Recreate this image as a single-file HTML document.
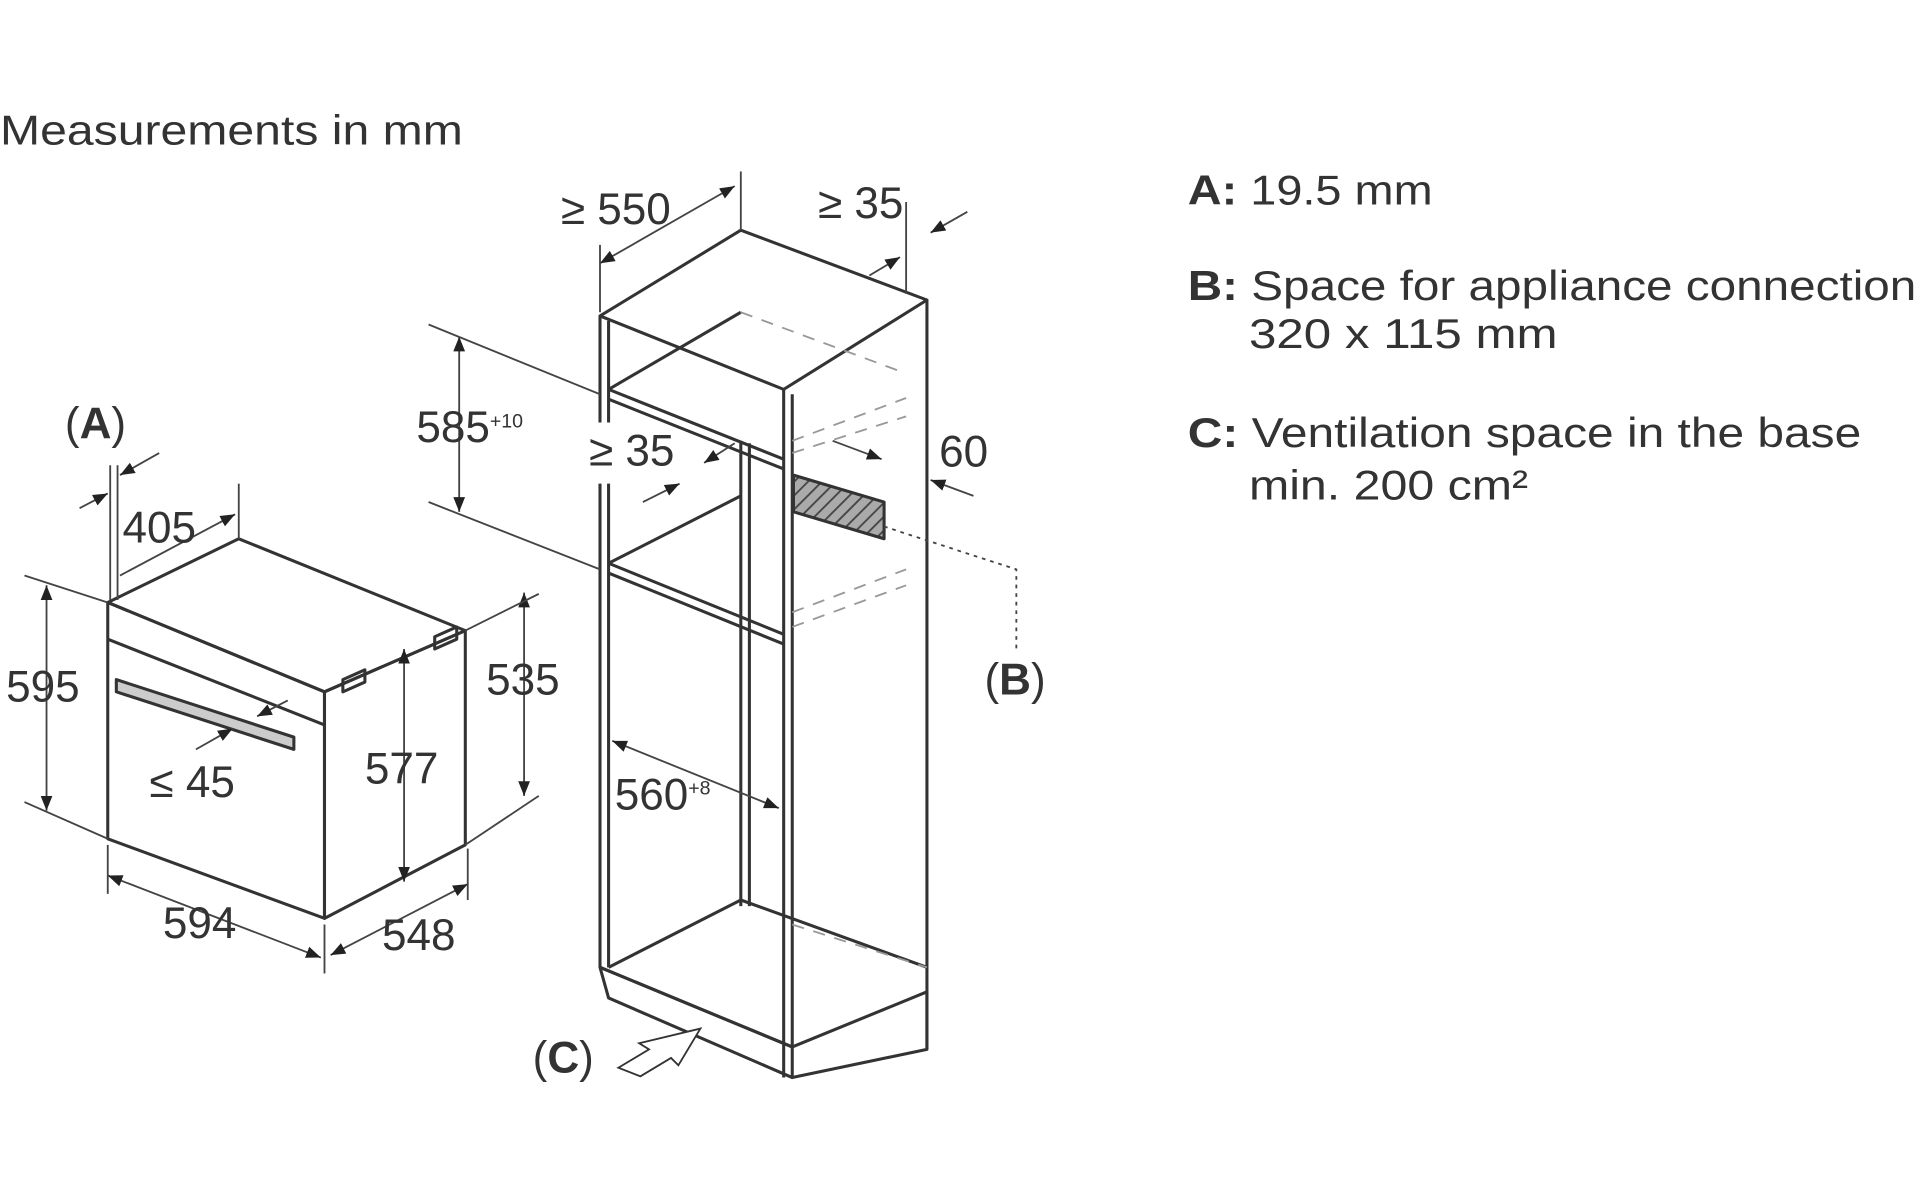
<!DOCTYPE html>
<html><head><meta charset="utf-8"><style>
html,body{margin:0;padding:0;background:#fff;width:1920px;height:1200px;overflow:hidden}
svg{display:block}
text{font-family:"Liberation Sans",sans-serif;fill:#333}
</style></head><body>
<svg width="1920" height="1200" viewBox="0 0 1568 980" preserveAspectRatio="none">
<defs>
<marker id="ar" viewBox="0 0 10 10" refX="10" refY="5" markerWidth="8" markerHeight="8" orient="auto-start-reverse"><path d="M0,1 L10,5 L0,9 z" fill="#222"/></marker>
<pattern id="hat" width="8" height="8" patternUnits="userSpaceOnUse" patternTransform="rotate(45)"><rect width="8" height="8" fill="#aaa"/><line x1="0" y1="0" x2="0" y2="8" stroke="#444" stroke-width="3"/></pattern>
</defs>
<g font-size="34">
<text x="0" y="118" textLength="378" lengthAdjust="spacingAndGlyphs">Measurements in mm</text>
<text x="970" y="167" textLength="200" lengthAdjust="spacingAndGlyphs"><tspan font-weight="bold">A:</tspan> 19.5 mm</text>
<text x="970" y="245" textLength="595" lengthAdjust="spacingAndGlyphs"><tspan font-weight="bold">B:</tspan> Space for appliance connection</text>
<text x="1020" y="284" textLength="252" lengthAdjust="spacingAndGlyphs">320 x 115 mm</text>
<text x="970" y="365" textLength="550" lengthAdjust="spacingAndGlyphs"><tspan font-weight="bold">C:</tspan> Ventilation space in the base</text>
<text x="1020" y="408" textLength="228" lengthAdjust="spacingAndGlyphs">min. 200 cm²</text>
</g>
<g stroke="#333" stroke-width="2.5" fill="none" stroke-linejoin="round">
<polygon points="88,492 195,440 380,515 265,565"/>
<polygon points="88,492 265,565 265,750 88,685"/>
<polygon points="265,565 380,515 380,690 265,750"/>
<line x1="88" y1="522" x2="265" y2="592"/>
<polygon points="95,555 240,602 240,612 95,565" fill="#ccc"/>
<path d="M280,555 l18,-8 l0,10 l-18,8z M355,520 l18,-8 l0,10 l-18,8z"/>
<polygon points="490,258 605,188 757,245 640,318"/>
<line x1="490" y1="258" x2="490" y2="345"/><line x1="490" y1="395" x2="490" y2="790"/>
<line x1="497" y1="262" x2="497" y2="345"/><line x1="497" y1="395" x2="497" y2="790"/>
<line x1="640" y1="318" x2="640" y2="880"/>
<line x1="647" y1="322" x2="647" y2="880"/>
<line x1="757" y1="245" x2="757" y2="857"/>
<line x1="497" y1="318" x2="640" y2="375"/>
<line x1="497" y1="326" x2="640" y2="383"/>
<line x1="497" y1="318" x2="605" y2="255"/>
<line x1="497" y1="460" x2="640" y2="518"/>
<line x1="497" y1="468" x2="640" y2="526"/>
<line x1="497" y1="460" x2="605" y2="405"/>
<line x1="605" y1="360" x2="605" y2="740"/>
<line x1="612" y1="362" x2="612" y2="740"/>
<line x1="497" y1="790" x2="605" y2="735"/>
<line x1="605" y1="735" x2="757" y2="790"/>
<polygon points="490,790 647,855 757,810 757,857 647,880 497,815"/>
<line x1="490" y1="790" x2="647" y2="855"/>
<polygon points="648,388 722,410 722,440 648,418" fill="url(#hat)"/>
</g>
<g stroke="#999" stroke-width="1.5" stroke-dasharray="10,8" fill="none">
<line x1="605" y1="255" x2="740" y2="305"/>
<line x1="647" y1="360" x2="740" y2="325"/>
<line x1="647" y1="370" x2="740" y2="340"/>
<line x1="647" y1="500" x2="740" y2="465"/>
<line x1="647" y1="512" x2="740" y2="478"/>
<line x1="647" y1="755" x2="757" y2="790"/>
</g>
<g stroke="#444" stroke-width="1.5" fill="none">
<polyline points="722,430 830,465 830,530" stroke-dasharray="3,4"/>
<line x1="38" y1="478" x2="38" y2="662" marker-start="url(#ar)" marker-end="url(#ar)"/>
<line x1="20" y1="470" x2="88" y2="492"/><line x1="20" y1="655" x2="88" y2="685"/>
<line x1="428" y1="484" x2="428" y2="650" marker-start="url(#ar)" marker-end="url(#ar)"/>
<line x1="380" y1="515" x2="440" y2="485"/><line x1="380" y1="690" x2="440" y2="650"/>
<line x1="330" y1="530" x2="330" y2="720" marker-start="url(#ar)" marker-end="url(#ar)"/>
<line x1="88" y1="715" x2="262" y2="782" marker-start="url(#ar)" marker-end="url(#ar)"/>
<line x1="88" y1="690" x2="88" y2="730"/><line x1="265" y1="755" x2="265" y2="795"/><line x1="382" y1="693" x2="382" y2="735"/>
<line x1="270" y1="780" x2="382" y2="722" marker-start="url(#ar)" marker-end="url(#ar)"/>
<line x1="98" y1="470" x2="192" y2="420" marker-end="url(#ar)"/>
<line x1="195" y1="395" x2="195" y2="440"/><line x1="90" y1="380" x2="90" y2="490"/><line x1="96" y1="380" x2="96" y2="490"/>
<line x1="65" y1="415" x2="88" y2="403" marker-end="url(#ar)"/><line x1="130" y1="370" x2="98" y2="388" marker-end="url(#ar)"/>
<line x1="160" y1="612" x2="190" y2="595" marker-end="url(#ar)"/><line x1="235" y1="572" x2="210" y2="585" marker-end="url(#ar)"/>
<line x1="375" y1="275" x2="375" y2="418" marker-start="url(#ar)" marker-end="url(#ar)"/>
<line x1="350" y1="265" x2="490" y2="322"/><line x1="350" y1="410" x2="490" y2="465"/>
<line x1="490" y1="215" x2="600" y2="152" marker-start="url(#ar)" marker-end="url(#ar)"/>
<line x1="490" y1="200" x2="490" y2="255"/><line x1="605" y1="140" x2="605" y2="188"/>
<line x1="710" y1="225" x2="735" y2="210" marker-end="url(#ar)"/><line x1="790" y1="173" x2="760" y2="190" marker-end="url(#ar)"/>
<line x1="740" y1="165" x2="740" y2="240"/>
<line x1="525" y1="410" x2="555" y2="395" marker-end="url(#ar)"/><line x1="600" y1="362" x2="575" y2="378" marker-end="url(#ar)"/>
<line x1="680" y1="360" x2="720" y2="375" marker-end="url(#ar)"/>
<line x1="795" y1="405" x2="760" y2="392" marker-end="url(#ar)"/>
<line x1="500" y1="605" x2="636" y2="660" marker-start="url(#ar)" marker-end="url(#ar)"/>
</g>
<path d="M505,872 l25,-15 l-8,-5 l50,-12 l-18,30 l-6,-6 l-25,15z" fill="#fff" stroke="#333" stroke-width="1.5"/>
<g font-size="36">
<text x="53" y="358">(<tspan font-weight="bold">A</tspan>)</text>
<text x="100" y="443">405</text>
<text x="5" y="573">595</text>
<text x="122" y="651">≤ 45</text>
<text x="298" y="640">577</text>
<text x="397" y="567">535</text>
<text x="133" y="766">594</text>
<text x="312" y="776">548</text>
<text x="340" y="361">585<tspan font-size="16" dy="-12">+10</tspan></text>
<text x="481" y="380">≥ 35</text>
<text x="458" y="183">≥ 550</text>
<text x="668" y="178">≥ 35</text>
<text x="767" y="381">60</text>
<text x="804" y="567">(<tspan font-weight="bold">B</tspan>)</text>
<text x="502" y="661">560<tspan font-size="16" dy="-12">+8</tspan></text>
<text x="435" y="876">(<tspan font-weight="bold">C</tspan>)</text>
</g>
</svg>
</body></html>
